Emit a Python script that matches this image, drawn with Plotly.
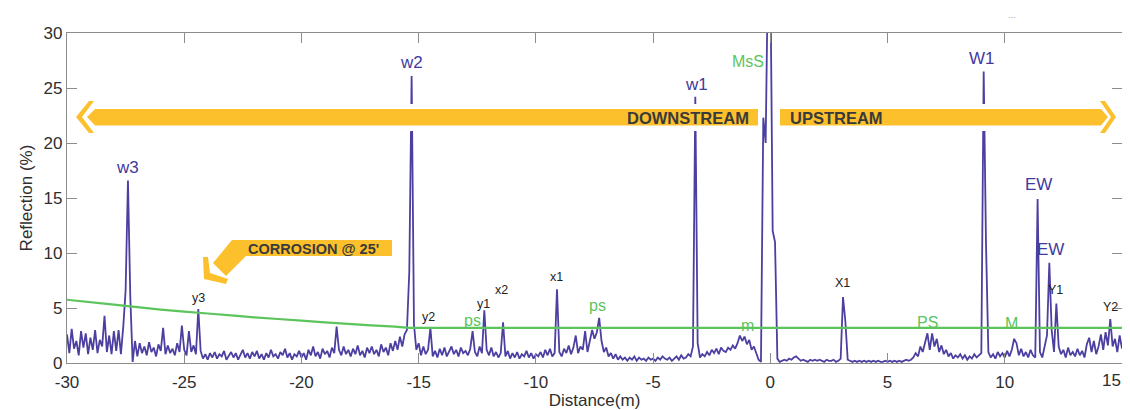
import numpy as np
import plotly.graph_objects as go

# ---------------- data ----------------
x_start, x_stop, x_step = -30.0, 15.0, 0.1
reflection = [
    # -30.0 .. -29.1
    2.6, 0.9, 3.1, 1.3, 2.0, 0.7, 2.9, 1.4, 2.7, 0.8,
    # -29.0 .. -28.1
    2.3, 1.2, 3.0, 0.9, 2.1, 1.5, 4.3, 1.0, 2.5, 0.8,
    # -28.0 .. -27.1
    2.9, 1.1, 3.0, 0.8, 3.3, 6.6, 16.6, 6.0, 0.1, 2.0,
    # -27.0 .. -26.1
    0.6, 1.8, 0.9, 1.5, 0.7, 1.9, 1.0, 1.4, 0.6, 1.7,
    # -26.0 .. -25.1
    1.1, 3.2, 0.8, 1.6, 0.9, 1.3, 0.7, 1.8, 1.0, 3.4,
    # -25.0 .. -24.1
    1.2, 0.7, 2.9, 1.0, 1.6, 0.8, 4.9, 1.1, 0.4, 0.8,
    # -24.0 .. -23.1
    0.3, 0.9, 0.5, 1.0, 0.4, 0.8, 0.6, 1.1, 0.3, 0.7,
    # -23.0 .. -22.1
    1.0, 0.5, 0.9, 0.3, 0.8, 1.2, 0.5, 0.9, 0.4, 1.0,
    # -22.0 .. -21.1
    0.6, 1.1, 0.4, 0.8, 0.3, 0.9, 0.5, 1.2, 0.6, 0.8,
    # -21.0 .. -20.1
    0.4, 1.0, 0.7, 1.3, 0.5, 0.9, 0.3, 0.8, 0.6, 1.1,
    # -20.0 .. -19.1
    0.5, 0.9, 0.3, 1.2, 0.7, 1.5, 0.6, 1.0, 0.4, 1.3,
    # -19.0 .. -18.1
    0.8, 1.1, 0.5, 1.4, 0.9, 3.3, 1.2, 0.7, 1.5, 0.8,
    # -18.0 .. -17.1
    1.2, 0.6, 1.3, 0.8, 1.6, 0.7, 1.1, 0.5, 1.4, 0.9,
    # -17.0 .. -16.1
    1.5, 0.8, 1.2, 0.6, 1.7, 1.0, 1.4, 0.7, 1.8, 1.1,
    # -16.0 .. -15.1
    2.0, 1.2, 2.4, 1.5, 2.6, 3.0, 8.3, 26.1, 3.5, 1.2,
    # -15.0 .. -14.1
    1.8, 0.7, 1.5, 0.8, 1.2, 3.2, 0.6, 1.1, 0.5, 1.3,
    # -14.0 .. -13.1
    0.7, 1.4, 0.6, 1.0, 1.5, 0.8, 1.2, 0.6, 1.4, 0.9,
    # -13.0 .. -12.1
    1.1, 0.7, 1.3, 2.9, 1.0, 0.6, 1.5, 0.9, 4.8, 1.2,
    # -12.0 .. -11.1
    0.7, 1.4, 0.6, 1.0, 0.5, 0.9, 3.7, 0.6, 1.1, 0.4,
    # -11.0 .. -10.1
    0.9, 0.5, 1.0, 0.4, 0.8, 0.6, 1.1, 0.5, 0.9, 0.4,
    # -10.0 .. -9.1
    0.8, 0.6, 1.0, 0.5, 1.2, 0.7, 1.3, 0.6, 0.9, 6.7,
    # -9.0 .. -8.1
    1.0, 0.6, 1.3, 0.9, 1.6, 0.8, 1.4, 2.5, 0.9, 1.5,
    # -8.0 .. -7.1
    1.2, 2.9, 1.0, 2.0, 3.0, 2.2, 2.8, 4.1, 2.0, 1.0,
    # -7.0 .. -6.1
    1.4, 0.6, 0.9, 0.4, 0.8, 0.3, 0.6, 0.3, 0.5, 0.2,
    # -6.0 .. -5.1
    0.5, 0.3, 0.6, 0.2, 0.5, 0.3, 0.4, 0.2, 0.5, 0.3,
    # -5.0 .. -4.1
    0.4, 0.2, 0.5, 0.3, 0.6, 0.4, 0.3, 0.5, 0.2, 0.4,
    # -4.0 .. -3.1
    0.6, 0.3, 0.7, 0.4, 0.5, 0.8, 0.6, 1.5, 24.2, 1.8,
    # -3.0 .. -2.1
    0.5, 0.8, 0.6, 1.0, 0.7, 1.2, 0.9, 1.3, 0.8, 1.4,
    # -2.0 .. -1.1
    1.1, 1.0, 1.4, 1.2, 1.6, 1.3, 1.8, 2.5, 2.0, 2.4,
    # -1.0 .. -0.1
    1.7, 2.1, 1.2, 1.5, 0.8, 0.3, 0.1, 22.3, 20.0, 36.0,
    # 0.0 .. 0.9
    36.0, 12.0, 11.0, 0.4, 0.1, 0.2, 0.3, 0.2, 0.4, 0.3,
    # 1.0 .. 1.9
    0.5, 0.6, 0.4, 0.2, 0.3, 0.2, 0.1, 0.3, 0.2, 0.3,
    # 2.0 .. 2.9
    0.2, 0.3, 0.2, 0.1, 0.3, 0.2, 0.2, 0.3, 0.1, 0.2,
    # 3.0 .. 3.9
    0.4, 6.0, 3.8, 0.3, 0.2, 0.1, 0.2, 0.1, 0.2, 0.1,
    # 4.0 .. 4.9
    0.2, 0.1, 0.2, 0.1, 0.2, 0.1, 0.2, 0.1, 0.1, 0.2,
    # 5.0 .. 5.9
    0.1, 0.2, 0.1, 0.2, 0.1, 0.2, 0.1, 0.2, 0.3, 0.2,
    # 6.0 .. 6.9
    0.3, 0.5, 0.9, 0.6, 1.5, 1.0, 2.0, 2.7, 1.2, 2.7,
    # 7.0 .. 7.9
    1.5, 2.2, 1.0, 1.6, 0.8, 1.2, 0.6, 0.9, 0.4, 0.7,
    # 8.0 .. 8.9
    0.5, 0.8, 0.4, 0.7, 0.3, 0.6, 0.4, 0.8, 0.5, 0.7,
    # 9.0 .. 9.9
    0.9, 26.5, 10.8, 1.0, 0.5, 0.8, 0.4, 1.0, 0.6, 0.9,
    # 10.0 .. 10.9
    0.5, 1.1, 0.6, 1.2, 2.2, 1.8, 0.7, 1.3, 0.6, 1.0,
    # 11.0 .. 11.9
    0.5, 1.2, 0.7, 0.5, 14.9, 1.0, 0.5, 1.5, 2.5, 9.1,
    # 12.0 .. 12.9
    3.0, 1.0, 5.4, 1.5, 0.8, 1.2, 0.5, 1.4, 0.7, 1.0,
    # 13.0 .. 13.9
    0.6, 1.3, 0.7, 1.1, 0.5, 1.7, 2.3, 1.0, 2.0, 0.8,
    # 14.0 .. 14.9
    1.5, 2.6, 1.2, 2.8, 1.6, 4.0, 1.5, 2.2, 1.0, 2.5,
    # 15.0
    1.3,
]
distance = np.round(np.arange(x_start, x_stop + x_step / 2, x_step), 1)

threshold_x = [-30, -28, -26, -24, -22, -20, -18, -16, -15.3, 15]
threshold_y = [5.75, 5.3, 4.85, 4.5, 4.15, 3.85, 3.55, 3.3, 3.2, 3.2]

x_ticks = [-30, -25, -20, -15, -10, -5, 0, 5, 10, 15]
y_ticks = [0, 5, 10, 15, 20, 25, 30]

# labels: (text, x, y)
labels_blue = [("w3", -27.44, 17.8), ("w2", -15.32, 27.3), ("w1", -3.17, 25.3),
               ("W1", 9.04, 27.7), ("EW", 11.43, 16.2), ("EW", 11.94, 10.3)]
labels_black = [("y3", -24.37, 5.9), ("y2", -14.56, 4.2), ("y1", -12.25, 5.4),
                ("x2", -11.45, 6.6), ("x1", -9.13, 7.8), ("X1", 3.06, 7.3),
                ("Y1", 12.15, 6.6), ("Y2", 14.52, 5.1)]
labels_green = [("ps", -12.72, 3.9), ("ps", -7.39, 5.2), ("m", -0.99, 3.45),
                ("MsS", -0.95, 27.4), ("PS", 6.7, 3.7), ("M", 10.3, 3.6)]

# ---------------- styling ----------------
FONT = "Liberation Sans, Arial, sans-serif"
BLUE = "#413a9c"
TRACE = "#4b3fa0"
GREEN = "#5cc45c"
YELLOW = "#fcc02c"
TXT = "#2e2e2e"
OFF = 8                      # page body margin offset
W, H = 1130 - OFF, 410 - OFF
L, R, T, B = 67, 1122, 33, 363   # plot area in screenshot pixels


def X(px):
    return -30 + (px - L) * 45 / (R - L)


def Y(py):
    return (B - py) * 30 / (B - T)


def PX(px):
    return (px - L) / (R - L)


def PY(py):
    return (B - py) / (B - T)


def path(pts):
    return "M " + " L ".join(f"{X(a):.4f},{Y(b):.4f}" for a, b in pts) + " Z"


fig = go.Figure()
fig.add_trace(go.Scatter(x=distance, y=reflection, mode="lines",
                         line=dict(color=TRACE, width=1.8), hoverinfo="skip"))
fig.add_trace(go.Scatter(x=threshold_x, y=threshold_y, mode="lines",
                         line=dict(color=GREEN, width=2.2, shape="spline", smoothing=0.6),
                         hoverinfo="skip"))

shapes = []
for x0, x1 in [(80, 761), (777, 1112)]:
    shapes.append(dict(type="path", path=path([(x0, 104), (x1, 104), (x1, 131), (x0, 131)]),
                       fillcolor="white", line=dict(width=0), layer="above"))
shapes.append(dict(type="path", path=path([(87, 117), (95, 109), (758, 109), (758, 125.5), (95, 125.5)]),
                   fillcolor=YELLOW, line=dict(width=0), layer="above"))
shapes.append(dict(type="path", path=path([(89, 101), (94, 101), (82, 117), (94, 133), (89, 133), (76, 117)]),
                   fillcolor=YELLOW, line=dict(width=0), layer="above"))
shapes.append(dict(type="path", path=path([(780, 109), (1101, 109), (1108, 117), (1101, 125.5), (780, 125.5)]),
                   fillcolor=YELLOW, line=dict(width=0), layer="above"))
shapes.append(dict(type="path", path=path([(1100, 101), (1105, 101), (1116, 117), (1105, 133), (1100, 133), (1111, 117)]),
                   fillcolor=YELLOW, line=dict(width=0), layer="above"))
shapes.append(dict(type="path", path=path([(232, 240), (392, 240), (392, 256), (246, 256), (226, 276), (213, 263)]),
                   fillcolor=YELLOW, line=dict(width=0), layer="above"))
shapes.append(dict(type="path", path=path([(203, 257), (208, 257), (210, 273), (228, 279), (226, 284), (204, 279)]),
                   fillcolor=YELLOW, line=dict(width=0), layer="above"))

ann = []
for t, x, y in labels_blue:
    ann.append(dict(text=t, x=x, y=y, font=dict(family=FONT, size=17, color=BLUE)))
for t, x, y in labels_black:
    ann.append(dict(text=t, x=x, y=y, font=dict(family=FONT, size=12.5, color="#222222")))
for t, x, y in labels_green:
    ann.append(dict(text=t, x=x, y=y, font=dict(family=FONT, size=16, color=GREEN)))
ann.append(dict(text="<b>DOWNSTREAM</b>", x=X(751), y=Y(117.5), xanchor="right",
                font=dict(family=FONT, size=16.5, color="#3a3a3a")))
ann.append(dict(text="<b>UPSTREAM</b>", x=X(788), y=Y(117.5), xanchor="left",
                font=dict(family=FONT, size=16.5, color="#3a3a3a")))
ann.append(dict(text="<b>CORROSION @ 25'</b>", x=X(313), y=Y(248.5),
                font=dict(family=FONT, size=14.5, color="#3a3a3a")))
for a in ann:
    a.update(xref="x", yref="y", showarrow=False)

# paper-referenced texts (outside the axis ranges)
ann.append(dict(text="...", x=PX(1012), y=PY(15), xref="paper", yref="paper",
                xanchor="center", yanchor="middle", showarrow=False,
                font=dict(family=FONT, size=9, color="#a4a4bc")))
ann.append(dict(text=str(x_ticks[-1]), x=PX(1123), y=PY(380), xref="paper", yref="paper",
                xanchor="right", yanchor="middle", showarrow=False,
                font=dict(family=FONT, size=17, color=TXT)))

axis_common = dict(showline=True, linecolor="#8c8c8c", linewidth=1.3, mirror="ticks",
                   ticks="inside", ticklen=10, tickcolor="#8c8c8c", tickwidth=1.3,
                   showgrid=False, zeroline=False,
                   tickfont=dict(family=FONT, size=17, color=TXT))

x_ticktext = [str(v) for v in x_ticks[:-1]] + [""]

fig.update_layout(
    width=W, height=H,
    margin=dict(l=L - OFF, r=W - (R - OFF), t=T - OFF, b=H - (B - OFF), autoexpand=False),
    paper_bgcolor="white", plot_bgcolor="white",
    showlegend=False,
    shapes=shapes, annotations=ann,
    xaxis=dict(range=[-30, 15], tickvals=x_ticks, ticktext=x_ticktext,
               ticklabelstandoff=3,
               title=dict(text="Distance(m)", standoff=5,
                          font=dict(family=FONT, size=17, color=TXT)),
               **axis_common),
    yaxis=dict(range=[0, 30], tickvals=y_ticks, ticktext=[str(v) for v in y_ticks],
               title=dict(text="Reflection (%)", standoff=6,
                          font=dict(family=FONT, size=17, color=TXT)),
               **axis_common),
)

fig.write_html("out.html")
